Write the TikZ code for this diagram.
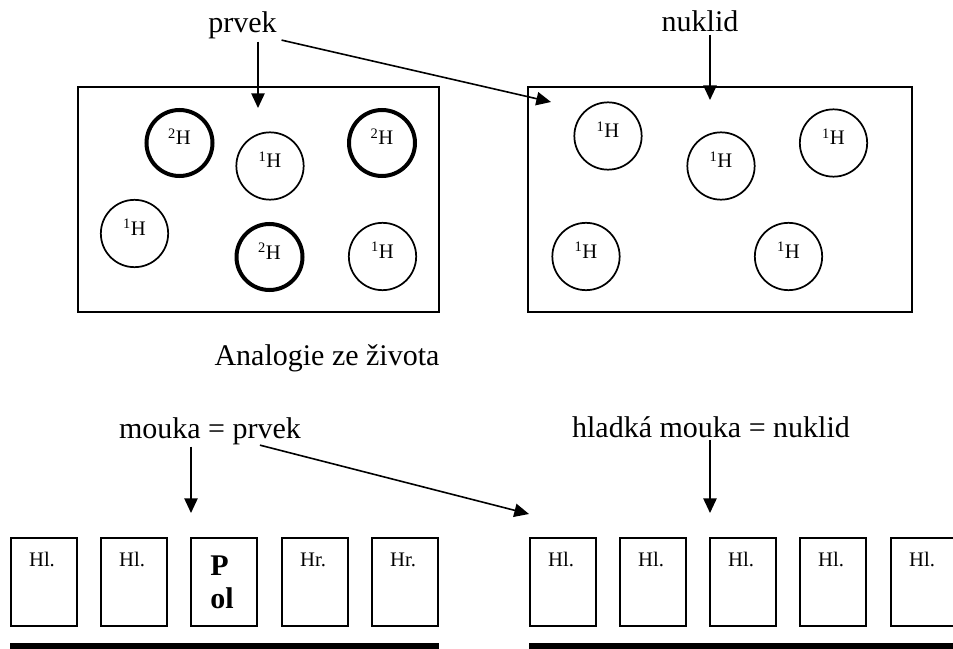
\documentclass[tikz,border=0pt]{standalone}
\usepackage{fontspec}
\setmainfont{Liberation Serif}
\usetikzlibrary{arrows.meta}
\begin{document}
\begin{tikzpicture}[x=0.75pt,y=-0.75pt,
  lbl/.style={font=\fontsize{22.5}{27}\selectfont, inner sep=0pt, anchor=base},
  frame/.style={draw, line width=1.5pt},
  atom/.style={draw, circle, line width=1.3pt, minimum size=50.5pt, inner sep=0pt},
  heavy/.style={atom, line width=3pt, minimum size=49.5pt},
  iso/.style={font=\fontsize{15.5}{17}\selectfont, inner sep=0pt, anchor=base},
  cell/.style={draw, line width=1.5pt, minimum width=49.5pt, minimum height=66pt, inner sep=0pt},
  bold/.style={font=\fontsize{22.5}{24.75}\selectfont\bfseries, inner sep=0pt, align=left},
  arr/.style={-{Triangle[length=11pt,width=10pt]}, line width=1.2pt, shorten <=1.5pt},
  bar/.style={fill=black}
]
\clip (0,0) rectangle (953,649);
\fill[white] (0,0) rectangle (953,649);

% titles
\node[lbl] (prvek) at (242.5,33) {prvek};
\node[lbl] (nuklid) at (700,32) {nuklid};
\node[lbl] (analog) at (327,365) {Analogie ze života};
\node[lbl] (mouka) at (210,438) {mouka = prvek};
\node[lbl] (hladka) at (711,437) {hladká mouka = nuklid};

% frames
\draw[frame] (78,87) rectangle (439,312);
\draw[frame] (528,87) rectangle (912,312);

% left frame atoms
\node[heavy] (a1) at (179.5,143) {};
\node[atom]  (a2) at (270,166) {};
\node[heavy] (a3) at (382,143) {};
\node[atom]  (a4) at (134.5,233.5) {};
\node[heavy] (a5) at (269.5,257) {};
\node[atom]  (a6) at (382.5,256.5) {};
\node[iso] (l1) at ([yshift=-1.5pt]a1.center) {\textsuperscript{2}H};
\node[iso] (l2) at ([yshift=-1.5pt]a2.center) {\textsuperscript{1}H};
\node[iso] (l3) at ([yshift=-1.5pt]a3.center) {\textsuperscript{2}H};
\node[iso] (l4) at ([yshift=-1.5pt]a4.center) {\textsuperscript{1}H};
\node[iso] (l5) at ([yshift=-1.5pt]a5.center) {\textsuperscript{2}H};
\node[iso] (l6) at ([yshift=-1.5pt]a6.center) {\textsuperscript{1}H};

% right frame atoms
\node[atom] (b1) at (608,136) {};
\node[atom] (b2) at (721,166) {};
\node[atom] (b3) at (833.5,143) {};
\node[atom] (b4) at (586,256.5) {};
\node[atom] (b5) at (788.5,256.5) {};
\node[iso] (m1) at ([yshift=-1.5pt]b1.center) {\textsuperscript{1}H};
\node[iso] (m2) at ([yshift=-1.5pt]b2.center) {\textsuperscript{1}H};
\node[iso] (m3) at ([yshift=-1.5pt]b3.center) {\textsuperscript{1}H};
\node[iso] (m4) at ([yshift=-1.5pt]b4.center) {\textsuperscript{1}H};
\node[iso] (m5) at ([yshift=-1.5pt]b5.center) {\textsuperscript{1}H};

% arrow tips
\coordinate (t1) at (258,108);
\coordinate (t2) at (551,102);
\coordinate (t3) at (710,100);
\coordinate (t4) at (191,513);
\coordinate (t5) at (529,514);
\coordinate (t6) at (710,513);
\coordinate (mx) at (258,0);

\draw[arr] (prvek.south -| t1) -- (t1);
\draw[arr] ([xshift=2pt]prvek.south east) -- (t2);
\draw[arr] (nuklid.south -| t3) -- (t3);
\draw[arr] (mouka.south -| t4) -- (t4);
\draw[arr] (mouka.south -| mx) -- (t5);
\draw[arr] (hladka.south -| t6) -- (t6);

% bottom cells left
\node[cell] (c1) at (44,582) {};
\node[cell] (c2) at (134,582) {};
\node[cell] (c3) at (224,582) {};
\node[cell] (c4) at (315,582) {};
\node[cell] (c5) at (405,582) {};
\node[iso] (q1) at (42,566) {Hl.};
\node[iso] (q2) at (132,566) {Hl.};
\node[bold, anchor=base west] (q3) at (210,608) {P\\ol};
\node[iso] (q4) at (313,566) {Hr.};
\node[iso] (q5) at (403,566) {Hr.};
\fill[bar] (10,643) rectangle (439,652);

% bottom cells right
\node[cell] (d1) at (563,582) {};
\node[cell] (d2) at (653,582) {};
\node[cell] (d3) at (743,582) {};
\node[cell] (d4) at (833,582) {};
\node[cell] (d5) at (924,582) {};
\node[iso] (r1) at (561,566) {Hl.};
\node[iso] (r2) at (651,566) {Hl.};
\node[iso] (r3) at (741,566) {Hl.};
\node[iso] (r4) at (831,566) {Hl.};
\node[iso] (r5) at (922,566) {Hl.};
\fill[bar] (529,643) rectangle (960,652);
\end{tikzpicture}
\end{document}
